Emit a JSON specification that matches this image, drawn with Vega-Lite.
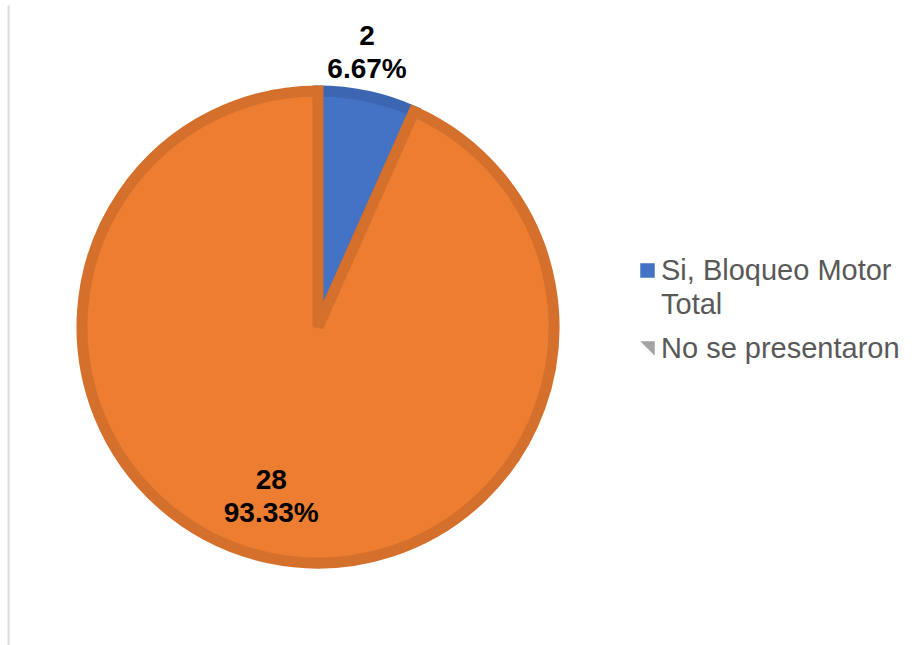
{
  "$schema": "https://vega.github.io/schema/vega-lite/v6.json",
  "autosize": "none",
  "width": 620,
  "height": 644,
  "padding": {"left": 8, "top": 5, "right": 291, "bottom": 0},
  "background": "white",
  "view": {"stroke": null},
  "data": {
    "values": [
      {"category": "Si, Bloqueo Motor Total", "count": 2, "pct": "6.67%"},
      {"category": "No se presentaron", "count": 28, "pct": "93.33%"}
    ]
  },
  "transform": [{"calculate": "['' + datum.count, datum.pct]", "as": "label"}],
  "layer": [
    {
      "mark": {"type": "rule", "opacity": 0},
      "encoding": {
        "y": {
          "datum": 0,
          "type": "quantitative",
          "axis": {"domain": true, "domainColor": "#d9d9d9", "domainWidth": 2, "ticks": false, "labels": false, "grid": false, "title": null}
        }
      }
    },
    {
      "mark": {"type": "point", "filled": true, "opacity": 0},
      "encoding": {
        "color": {
          "field": "category",
          "type": "nominal",
          "scale": {"domain": ["Si, Bloqueo Motor Total", "No se presentaron"], "range": ["#4472c4", "#a3a3a3"]},
          "legend": {
            "orient": "none",
            "legendX": 625,
            "legendY": 251,
            "title": null,
            "padding": 0,
            "labelFont": "Liberation Sans",
            "labelFontSize": 29,
            "labelColor": "#595959",
            "labelLimit": 400,
            "labelOffset": -1,
            "rowPadding": 14,
            "symbolSize": 210,
            "symbolType": "square",
            "symbolOpacity": 1,
            "symbolStrokeWidth": 0,
            "labelExpr": "datum.label == 'Si, Bloqueo Motor Total' ? ['Si, Bloqueo Motor', 'Total'] : datum.label",
            "encode": {
              "symbols": {
                "update": {
                  "shape": {"signal": "datum.value == 'No se presentaron' ? 'M-1,-1L1,-1L1,1Z' : 'square'"}
                }
              },
              "labels": {
                "update": {
                  "lineHeight": {"value": 34}
                }
              }
            }
          }
        }
      }
    },
    {
      "mark": {"type": "arc", "radius": 236, "strokeWidth": 11, "strokeJoin": "miter"},
      "encoding": {
        "theta": {"field": "count", "type": "quantitative", "stack": true},
        "order": {"field": "category", "sort": "descending"},
        "fill": {
          "field": "category",
          "type": "nominal",
          "scale": {"domain": ["Si, Bloqueo Motor Total", "No se presentaron"], "range": ["#4472c4", "#ed7d31"]},
          "legend": null
        },
        "stroke": {
          "field": "category",
          "type": "nominal",
          "scale": {"domain": ["Si, Bloqueo Motor Total", "No se presentaron"], "range": ["#3c66b2", "#d4702c"]},
          "legend": null
        }
      }
    },
    {
      "mark": {"type": "text", "radius": 296, "dx": -12.5, "font": "Liberation Sans", "fontSize": 28, "fontWeight": "bold", "lineHeight": 33, "color": "#000000"},
      "encoding": {
        "theta": {"field": "count", "type": "quantitative", "stack": true},
        "order": {"field": "category", "sort": "descending"},
        "text": {"field": "label", "type": "nominal"},
        "opacity": {"condition": {"test": "datum.category == 'Si, Bloqueo Motor Total'", "value": 1}, "value": 0}
      }
    },
    {
      "mark": {"type": "text", "radius": 157.5, "dx": -14, "font": "Liberation Sans", "fontSize": 28, "fontWeight": "bold", "lineHeight": 33, "color": "#000000"},
      "encoding": {
        "theta": {"field": "count", "type": "quantitative", "stack": true},
        "order": {"field": "category", "sort": "descending"},
        "text": {"field": "label", "type": "nominal"},
        "opacity": {"condition": {"test": "datum.category == 'No se presentaron'", "value": 1}, "value": 0}
      }
    }
  ]
}
